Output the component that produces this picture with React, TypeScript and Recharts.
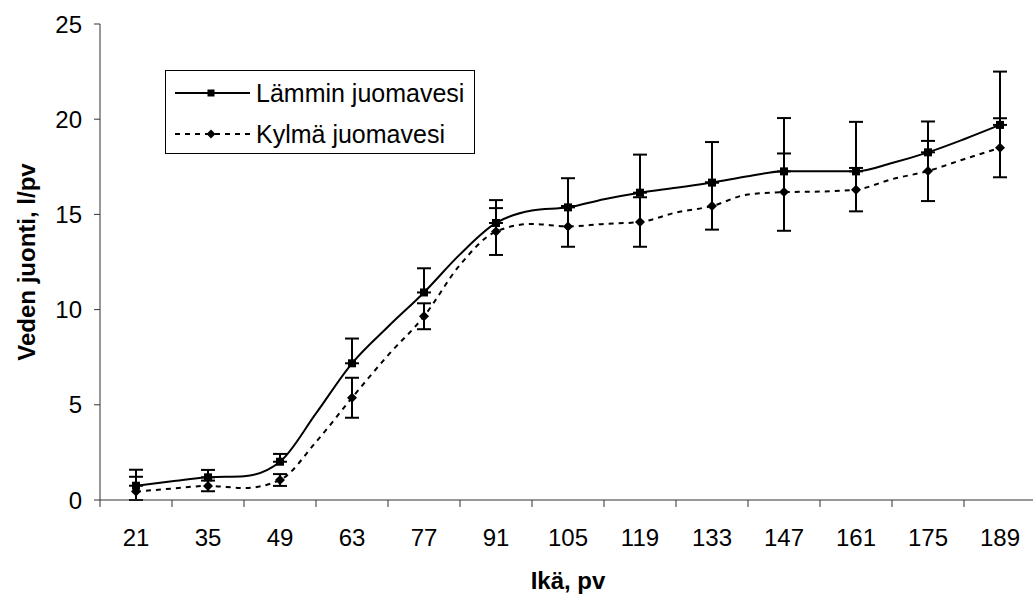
import React from 'react';
import { ComposedChart, Line, Scatter, XAxis, YAxis, ErrorBar, Legend, Label } from 'recharts';

const font = '"Liberation Sans", Arial, sans-serif';

// weekly measurements (line), markers + error bars every 14 days
const weekDays = [21, 28, 35, 42, 49, 56, 63, 70, 77, 84, 91, 98, 105, 112, 119, 126, 133, 140, 147, 154, 161, 168, 175, 182, 189];
const lamminWeekly = [0.75, 0.98, 1.19, 1.25, 2.01, 4.55, 7.18, 9.1, 10.9, 12.9, 14.55, 15.2, 15.37, 15.8, 16.14, 16.4, 16.67, 17.0, 17.26, 17.26, 17.26, 17.7, 18.26, 18.95, 19.7];
const kylmaWeekly = [0.44, 0.6, 0.74, 0.63, 1.05, 3.05, 5.37, 7.6, 9.65, 12.35, 14.1, 14.5, 14.37, 14.5, 14.6, 15.1, 15.44, 16.05, 16.17, 16.2, 16.3, 16.85, 17.28, 17.9, 18.5];

const markerDays = [21, 35, 49, 63, 77, 91, 105, 119, 133, 147, 161, 175, 189];
const lamminPlusErr = [0.84, 0.39, 0.41, 1.3, 1.27, 1.2, 1.53, 2.0, 2.13, 2.8, 2.6, 1.62, 2.8];
const kylmaErr = [0.78, 0.28, 0.31, 1.05, 0.68, 1.23, 1.07, 1.3, 1.24, 2.03, 1.14, 1.58, 1.55];

const xTicks = [14, 21, 28, 35, 42, 49, 56, 63, 70, 77, 84, 91, 98, 105, 112, 119, 126, 133, 140, 147, 154, 161, 168, 175, 182, 189, 196];
const yTicks = [0, 5, 10, 15, 20, 25];

const lamminLine = weekDays.map((d, i) => ({ day: d, v: lamminWeekly[i] }));
const kylmaLine = weekDays.map((d, i) => ({ day: d, v: kylmaWeekly[i] }));

const lamminPts = markerDays.map((d, i) => ({
  day: d,
  v: lamminWeekly[weekDays.indexOf(d)],
  err: [0, lamminPlusErr[i]],
}));
const kylmaPts = markerDays.map((d, i) => {
  const v = kylmaWeekly[weekDays.indexOf(d)];
  return { day: d, v, err: [Math.min(kylmaErr[i], v), kylmaErr[i]] };
});

const Square = (props: any) => (
  <rect x={props.cx - 4} y={props.cy - 4} width={8} height={8} fill="#000" />
);

const Diamond = (props: any) => {
  const { cx, cy } = props;
  return <polygon points={`${cx},${cy - 5} ${cx + 5},${cy} ${cx},${cy + 5} ${cx - 5},${cy}`} fill="#000" />;
};

function DayTick(props: any) {
  const { x, y, payload } = props;
  const v = payload.value;
  if ((v - 14) % 14 === 0) {
    return <line x1={x} y1={y} x2={x} y2={y + 7} stroke="#333" strokeWidth={1} />;
  }
  return (
    <text x={x} y={y + 37} textAnchor="middle" dy="0.355em" fontSize={24} fill="#000" fontFamily={font}>
      {v}
    </text>
  );
}

function LegendBox() {
  return (
    <div style={{ width: 310, height: 84, border: '1px solid #000', boxSizing: 'border-box', background: '#fff' }}>
      <svg width={308} height={82} style={{ display: 'block' }}>
        <line x1={9} y1={22} x2={84} y2={22} stroke="#000" strokeWidth={2} />
        <rect x={41.5} y={18.5} width={7} height={7} fill="#000" />
        <text x={90} y={22} dy="0.355em" fontSize={25} fontFamily={font} fill="#000">Lämmin juomavesi</text>
        <line x1={9} y1={63} x2={84} y2={63} stroke="#000" strokeWidth={2} strokeDasharray="5 5" />
        <polygon points="45,58.5 49.5,63 45,67.5 40.5,63" fill="#000" />
        <text x={90} y={63} dy="0.355em" fontSize={25} fontFamily={font} fill="#000">Kylmä juomavesi</text>
      </svg>
    </div>
  );
}

export default function App() {
  return (
    <div style={{ position: 'absolute', left: 0, top: 0, width: 1033, height: 598, overflow: 'hidden', background: '#fff' }}>
      <style>{'.recharts-errorBar line[stroke="#010101"]:nth-of-type(3){display:none}'}</style>
      <ComposedChart width={1040} height={598} margin={{ top: 24, right: 4, left: 0, bottom: 0 }}>
        <XAxis
          dataKey="day"
          type="number"
          domain={[14, 196]}
          ticks={xTicks}
          interval={0}
          tickSize={0}
          tickMargin={0}
          tickLine={false}
          tick={<DayTick />}
          stroke="#333"
          height={98}
          label={
            <Label
              content={(p: any) => (
                <text
                  x={p.viewBox.x + p.viewBox.width / 2}
                  y={p.viewBox.y + 80}
                  textAnchor="middle"
                  dy="0.355em"
                  fontSize={24}
                  fontWeight="bold"
                  fontFamily={font}
                  fill="#000"
                >
                  Ikä, pv
                </text>
              )}
            />
          }
        />
        <YAxis
          type="number"
          domain={[0, 25]}
          ticks={yTicks}
          width={100}
          stroke="#333"
          tickSize={6}
          tickMargin={12}
          tick={{ fill: '#000', fontSize: 24, fontFamily: font }}
          label={
            <Label
              content={(p: any) => {
                const cx = 26;
                const cy = p.viewBox.y + p.viewBox.height / 2;
                return (
                  <text
                    x={cx}
                    y={cy}
                    transform={`rotate(-90 ${cx} ${cy})`}
                    textAnchor="middle"
                    dy="0.355em"
                    fontSize={24}
                    fontWeight="bold"
                    fontFamily={font}
                    fill="#000"
                  >
                    Veden juonti, l/pv
                  </text>
                );
              }}
            />
          }
        />
        <Legend
          layout="horizontal"
          verticalAlign="middle"
          align="center"
          content={<LegendBox />}
          wrapperStyle={{ left: 165, top: 70, width: 310, height: 84 }}
        />
        <Line
          data={lamminLine}
          dataKey="v"
          name="Lämmin juomavesi"
          type="monotone"
          stroke="#000"
          strokeWidth={2}
          dot={false}
          activeDot={false}
          isAnimationActive={false}
        />
        <Line
          data={kylmaLine}
          dataKey="v"
          name="Kylmä juomavesi"
          type="monotone"
          stroke="#000"
          strokeWidth={2}
          strokeDasharray="5 5"
          dot={false}
          activeDot={false}
          isAnimationActive={false}
        />
        <Scatter data={lamminPts} dataKey="v" shape={Square} isAnimationActive={false}>
          <ErrorBar dataKey="err" direction="y" width={7} stroke="#010101" strokeWidth={2} />
        </Scatter>
        <Scatter data={kylmaPts} dataKey="v" shape={Diamond} isAnimationActive={false}>
          <ErrorBar dataKey="err" direction="y" width={7} stroke="#000" strokeWidth={2} />
        </Scatter>
      </ComposedChart>
    </div>
  );
}
